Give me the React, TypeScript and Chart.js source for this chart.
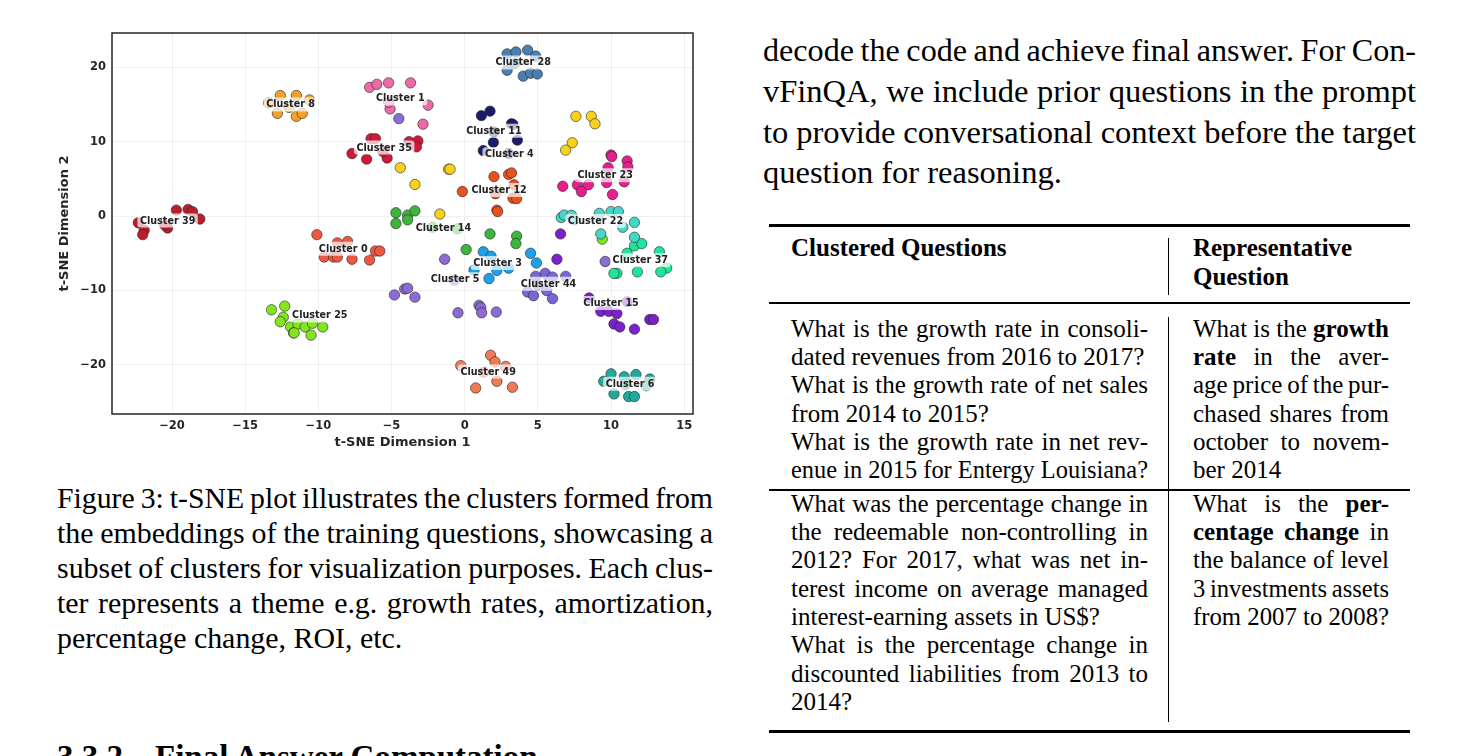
import React, { useEffect, useLayoutEffect, useRef } from 'react';
import { Chart, registerables } from 'chart.js';

Chart.register(...registerables);

type P = [number, number];

// ---------- chart data (t-SNE coordinates) ----------
const xTicks = [-20, -15, -10, -5, 0, 5, 10, 15];
const yTicks = [-20, -10, 0, 10, 20];

const cluster8: P[] = [[-12.6, 16.2], [-11.5, 16.2], [-10.6, 15.6], [-12.8, 13.8], [-11.5, 13.4], [-11.1, 13.8], [-13.4, 15.2], [-12.0, 14.6]];
const cluster39: P[] = [[-19.7, 0.8], [-18.9, 0.9], [-18.6, 0.6], [-18.1, -0.4], [-22.3, -0.9], [-21.9, -1.9], [-22.0, -2.5], [-20.3, -1.6], [-20.5, -1.2]];
const cluster1: P[] = [[-6.5, 17.3], [-6.0, 17.7], [-5.2, 17.9], [-3.7, 17.9], [-2.5, 14.9], [-2.85, 12.35], [-5.1, 14.4], [-5.2, 15.3]];
const cluster35: P[] = [[-6.4, 10.4], [-6.1, 10.4], [-7.7, 8.4], [-6.7, 7.65], [-5.3, 7.8], [-3.8, 10.0], [-3.2, 10.1], [-3.3, 9.3], [-5.6, 8.7]];
const goldPoints: P[] = [[-4.4, 6.5], [-3.4, 4.25], [-1.1, 6.3], [-1.0, 6.3], [-1.7, 0.27], [7.6, 13.4], [8.65, 13.4], [8.9, 12.4], [7.35, 9.85], [6.9, 8.86]];
const cluster14: P[] = [[-4.7, 0.45], [-3.9, 0.13], [-3.4, 0.7], [-4.7, -1.0], [-3.9, -0.5], [1.73, -2.4], [0.1, -4.5], [3.55, -2.7], [3.5, -3.7], [-2.2, -1.5], [-0.5, -1.7]];
const cluster11: P[] = [[1.14, 13.5], [1.73, 14.1], [3.2, 12.4], [3.3, 12.3], [1.96, 9.9], [1.27, 8.8], [3.6, 10.2], [2.0, 11.3], [3.0, 8.4]];
const cluster12: P[] = [[2.0, 5.3], [-0.16, 3.3], [2.2, 0.8], [2.25, 0.6], [3.0, 5.6], [3.2, 5.8], [3.37, 4.2], [3.3, 2.4], [3.55, 2.35], [2.1, 3.0]];
const cluster28: P[] = [[2.9, 21.8], [3.5, 22.05], [4.3, 22.3], [4.85, 21.5], [2.9, 19.6], [4.0, 18.8], [4.5, 19.2], [4.96, 19.1], [3.4, 20.5]];
const cluster23: P[] = [[10.0, 8.2], [10.05, 8.0], [11.1, 7.4], [11.15, 6.6], [9.8, 6.5], [10.9, 4.6], [9.7, 4.5], [8.45, 4.2], [7.7, 4.2], [7.97, 3.3], [6.7, 4.0], [10.1, 2.9]];
const cluster22: P[] = [[6.6, -0.2], [6.8, 0.13], [7.3, 0.1], [9.2, 0.36], [10.0, 0.6], [10.5, 0.6], [11.6, -0.85], [10.8, -1.5], [9.3, -2.4], [11.6, -2.85], [7.5, -0.5]];
const cluster37: P[] = [[11.6, -4.0], [12.1, -3.7], [13.3, -4.8], [13.8, -7.0], [13.4, -7.5], [11.8, -7.5], [10.4, -7.7], [10.2, -7.7], [11.1, -5.0]];
const cluster3: P[] = [[4.5, -5.0], [4.9, -6.3], [2.2, -7.3], [1.27, -4.8], [1.8, -5.4], [1.66, -8.4], [0.64, -7.25], [3.0, -7.0]];
const purplePoints: P[] = [[-1.37, -5.8], [-4.8, -10.6], [-4.1, -9.8], [-3.9, -9.7], [-3.4, -10.9], [-0.46, -13.0], [0.98, -12.0], [1.1, -12.3], [1.16, -13.0], [2.16, -12.9], [-0.7, -8.6], [-4.5, 13.1], [9.6, -6.1]];
const cluster44: P[] = [[4.85, -8.1], [5.5, -7.7], [6.0, -8.2], [6.9, -8.1], [4.3, -10.2], [4.7, -10.7], [6.0, -11.1], [5.6, -10.0], [5.0, -9.3]];
const cluster15: P[] = [[9.3, -12.8], [9.85, -12.8], [10.4, -13.1], [10.2, -14.5], [10.6, -14.9], [11.6, -15.2], [12.65, -13.9], [12.9, -13.9], [8.5, -11.0], [11.1, -11.5], [6.3, -5.8], [6.55, -2.4]];
const cluster6: P[] = [[10.0, -21.2], [10.9, -21.6], [11.7, -21.3], [12.65, -21.9], [9.5, -22.2], [10.2, -23.9], [11.2, -24.25], [11.6, -24.25], [12.4, -22.8], [11.0, -22.6]];
const cluster49: P[] = [[1.77, -18.7], [2.07, -19.6], [-0.27, -20.1], [0.75, -23.1], [2.8, -20.2], [2.2, -22.2], [3.26, -23.0], [1.3, -21.0]];
const cluster0: P[] = [[-10.1, -2.5], [-8.7, -3.6], [-8.0, -3.4], [-6.1, -4.7], [-5.8, -4.7], [-9.6, -5.5], [-8.96, -5.5], [-8.7, -5.5], [-7.7, -5.8], [-6.5, -5.9]];
const cluster25: P[] = [[-13.2, -12.6], [-12.3, -12.1], [-12.4, -13.6], [-12.6, -14.2], [-11.9, -14.9], [-11.7, -15.7], [-11.4, -14.5], [-10.9, -14.9], [-10.5, -16.0], [-10.4, -14.4], [-9.7, -14.9], [-11.65, -15.7], [9.4, -3.1]];

const seriesList: P[][] = [cluster8, cluster39, cluster1, cluster35, goldPoints, cluster14, cluster11, cluster12, cluster28, cluster23, cluster22, cluster37, cluster3, purplePoints, cluster44, cluster15, cluster6, cluster49, cluster0, cluster25];
const seriesColors = ['#f4a12b', '#b81f2a', '#ec6aa8', '#d2193a', '#f8d21a', '#3db53d', '#1b1b6b', '#e8521c', '#4a7fb2', '#e4208c', '#45d6c8', '#1de69a', '#1ea1ec', '#8c6cd4', '#7866d8', '#7a20cc', '#22a89c', '#ee7b55', '#ee5843', '#80e61e'];

const clusterNames = ['Cluster 28', 'Cluster 1', 'Cluster 8', 'Cluster 11', 'Cluster 35', 'Cluster 4', 'Cluster 23', 'Cluster 12', 'Cluster 39', 'Cluster 22', 'Cluster 14', 'Cluster 0', 'Cluster 37', 'Cluster 3', 'Cluster 5', 'Cluster 44', 'Cluster 15', 'Cluster 25', 'Cluster 49', 'Cluster 6'];
const labelX = [4.0, -4.4, -11.9, 2.0, -5.5, 3.05, 9.6, 2.35, -20.3, 8.94, -1.45, -8.3, 12.0, 2.25, -0.65, 5.73, 10.0, -9.9, 1.6, 11.3];
const labelY = [20.65, 15.8, 15.0, 11.45, 9.2, 8.3, 5.5, 3.5, -0.6, -0.67, -1.6, -4.4, -5.95, -6.3, -8.5, -9.1, -11.7, -13.35, -20.9, -22.55];

// ---------- layout helpers ----------
const SERIF = '"Liberation Serif", "Times New Roman", Times, serif';

function Line(props: { x: number; base: number; size: number; width: number; justify?: boolean; bold?: boolean; children: React.ReactNode }) {
  const ref = useRef<HTMLDivElement>(null);
  useLayoutEffect(() => {
    const fit = () => {
      const el = ref.current;
      if (!el) return;
      el.style.wordSpacing = '0px';
      el.style.transform = 'none';
      const span = el.firstChild as HTMLSpanElement;
      const natural = span.getBoundingClientRect().width;
      const spaces = (span.textContent || '').split(' ').length - 1;
      if (props.justify && spaces > 0) {
        let ws = (props.width - natural) / spaces;
        if (ws < -1.5) ws = -1.5;
        el.style.wordSpacing = ws + 'px';
        const now = span.getBoundingClientRect().width;
        if (now > props.width + 0.5) el.style.transform = 'scaleX(' + props.width / now + ')';
      } else if (natural > props.width + 0.5) {
        el.style.transform = 'scaleX(' + props.width / natural + ')';
      }
    };
    fit();
    if ((document as any).fonts && (document as any).fonts.ready) (document as any).fonts.ready.then(fit);
  }, []);
  return (
    <div
      ref={ref}
      style={{
        position: 'absolute',
        left: props.x,
        top: props.base - 0.8375 * props.size,
        fontFamily: SERIF,
        fontSize: props.size,
        lineHeight: props.size + 'px',
        fontWeight: props.bold ? 'bold' : 'normal',
        whiteSpace: 'nowrap',
        color: '#000',
        transformOrigin: 'left center',
      }}
    >
      <span>{props.children}</span>
    </div>
  );
}

function Rule(props: { x: number; y: number; w: number; h: number }) {
  return <div style={{ position: 'absolute', left: props.x, top: props.y, width: props.w, height: props.h, background: '#000' }} />;
}

function TsneChart() {
  const ref = useRef<HTMLCanvasElement>(null);
  useEffect(() => {
    if (!ref.current) return;
    const tickFont = { family: 'DejaVu Sans', weight: 'bold' as const, size: 11.5 };
    const titleFont = { family: 'DejaVu Sans', weight: 'bold' as const, size: 13 };
    const fmt = (v: any) => (Number(v) < 0 ? '\u2212' + Math.abs(Number(v)) : String(v));
    const framePlugin = {
      id: 'frameAndLabels',
      afterDatasetsDraw(chart: any) {
        const { ctx, chartArea, scales } = chart;
        ctx.save();
        ctx.font = 'bold 9.6px "DejaVu Sans"';
        ctx.textAlign = 'center';
        ctx.textBaseline = 'middle';
        clusterNames.forEach((name, i) => {
          const px = scales.x.getPixelForValue(labelX[i]);
          const py = scales.y.getPixelForValue(labelY[i]);
          const w = ctx.measureText(name).width;
          ctx.fillStyle = 'rgba(255,255,255,0.7)';
          ctx.beginPath();
          ctx.roundRect(px - w / 2 - 2.5, py - 7, w + 5, 14, 3);
          ctx.fill();
          ctx.fillStyle = '#222';
          ctx.fillText(name, px, py + 0.5);
        });
        ctx.strokeStyle = '#262626';
        ctx.lineWidth = 1.5;
        ctx.strokeRect(chartArea.left, chartArea.top, chartArea.right - chartArea.left, chartArea.bottom - chartArea.top);
        ctx.restore();
      },
    };
    const chart = new Chart(ref.current, {
      type: 'scatter',
      data: {
        datasets: seriesList.map((pts, i) => ({
          data: pts.map((p) => ({ x: p[0], y: p[1] })),
          backgroundColor: seriesColors[i],
          borderColor: 'rgba(35,35,35,0.85)',
          borderWidth: 0.7,
          pointRadius: 5.2,
        })),
      },
      options: {
        responsive: false,
        animation: false,
        events: [],
        layout: { padding: { left: 0, right: 17, top: 13, bottom: 0 } },
        plugins: { legend: { display: false }, tooltip: { enabled: false } },
        scales: {
          x: {
            type: 'linear',
            min: -24.1,
            max: 15.6,
            afterBuildTicks: (s: any) => { s.ticks = xTicks.map((v) => ({ value: v })); },
            afterFit: (s: any) => { s.height = 46; },
            grid: { color: 'rgba(0,0,0,0.06)', drawTicks: false },
            border: { display: false },
            ticks: { font: tickFont, color: '#262626', padding: 5, maxRotation: 0, callback: fmt },
            title: { display: true, text: 't-SNE Dimension 1', font: titleFont, color: '#262626', padding: { top: 0, bottom: 10 } },
          },
          y: {
            type: 'linear',
            min: -26.6,
            max: 24.6,
            afterBuildTicks: (s: any) => { s.ticks = yTicks.map((v) => ({ value: v })); },
            afterFit: (s: any) => { s.width = 62; },
            grid: { color: 'rgba(0,0,0,0.06)', drawTicks: false },
            border: { display: false },
            ticks: { font: tickFont, color: '#262626', padding: 6, callback: fmt },
            title: { display: true, text: 't-SNE Dimension 2', font: titleFont, color: '#262626', padding: { top: 7, bottom: 0 } },
          },
        },
      },
      plugins: [framePlugin],
    });
    return () => chart.destroy();
  }, []);
  return <canvas ref={ref} width={660} height={440} style={{ position: 'absolute', left: 50, top: 20, width: 660, height: 440 }} />;
}

export default function App() {
  const bodyBase = [61.5, 102.2, 142.9, 183.6];
  const capBase = [508.5, 543.5, 578.5, 613.5, 648.5];
  const rowBase = (i: number) => 336.7 + 28.3 * i;
  const row2Base = (i: number) => 511.7 + 28.3 * i;
  const LX = 791, LW = 357, RX = 1193, RW = 196, TF = 25;
  return (
    <div style={{ position: 'absolute', left: 0, top: 0, width: 1473, height: 756, overflow: 'hidden', background: '#fff' }}>
      <TsneChart />

      {/* caption */}
      <Line x={57} base={capBase[0]} size={29.9} width={656} justify>Figure 3: t-SNE plot illustrates the clusters formed from</Line>
      <Line x={57} base={capBase[1]} size={29.9} width={656} justify>the embeddings of the training questions, showcasing a</Line>
      <Line x={57} base={capBase[2]} size={29.9} width={656} justify>subset of clusters for visualization purposes. Each clus-</Line>
      <Line x={57} base={capBase[3]} size={29.9} width={656} justify>ter represents a theme e.g. growth rates, amortization,</Line>
      <Line x={57} base={capBase[4]} size={29.9} width={656}>percentage change, ROI, etc.</Line>

      {/* section heading (cut at page bottom) */}
      <Line x={57} base={769} size={33} width={80} bold>3.3.2</Line>
      <Line x={155} base={769} size={33} width={400} bold>Final Answer Computation</Line>

      {/* right column body */}
      <Line x={763} base={bodyBase[0]} size={32.5} width={653} justify>decode the code and achieve final answer. For Con-</Line>
      <Line x={763} base={bodyBase[1]} size={32.5} width={653} justify>vFinQA, we include prior questions in the prompt</Line>
      <Line x={763} base={bodyBase[2]} size={32.5} width={653} justify>to provide conversational context before the target</Line>
      <Line x={763} base={bodyBase[3]} size={32.5} width={653}>question for reasoning.</Line>

      {/* table rules */}
      <Rule x={769} y={224} w={641} h={3} />
      <Rule x={769} y={302} w={641} h={2} />
      <Rule x={769} y={489} w={641} h={1.6} />
      <Rule x={769} y={729.5} w={641} h={3} />
      <Rule x={1167.5} y={238} w={1.5} h={57} />
      <Rule x={1167.5} y={317} w={1.5} h={173} />
      <Rule x={1167.5} y={490} w={1.5} h={232} />

      {/* table header */}
      <Line x={LX} base={256} size={TF} width={LW} bold>Clustered Questions</Line>
      <Line x={RX} base={256} size={TF} width={RW} bold>Representative</Line>
      <Line x={RX} base={285} size={TF} width={RW} bold>Question</Line>

      {/* row 1 */}
      <Line x={LX} base={rowBase(0)} size={TF} width={LW} justify>What is the growth rate in consoli-</Line>
      <Line x={LX} base={rowBase(1)} size={TF} width={LW}>dated revenues from 2016 to 2017?</Line>
      <Line x={LX} base={rowBase(2)} size={TF} width={LW} justify>What is the growth rate of net sales</Line>
      <Line x={LX} base={rowBase(3)} size={TF} width={LW}>from 2014 to 2015?</Line>
      <Line x={LX} base={rowBase(4)} size={TF} width={LW} justify>What is the growth rate in net rev-</Line>
      <Line x={LX} base={rowBase(5)} size={TF} width={LW}>enue in 2015 for Entergy Louisiana?</Line>

      <Line x={RX} base={rowBase(0)} size={TF} width={RW} justify>What is the <b>growth</b></Line>
      <Line x={RX} base={rowBase(1)} size={TF} width={RW} justify><b>rate</b> in the aver-</Line>
      <Line x={RX} base={rowBase(2)} size={TF} width={RW} justify>age price of the pur-</Line>
      <Line x={RX} base={rowBase(3)} size={TF} width={RW} justify>chased shares from</Line>
      <Line x={RX} base={rowBase(4)} size={TF} width={RW} justify>october to novem-</Line>
      <Line x={RX} base={rowBase(5)} size={TF} width={RW}>ber 2014</Line>

      {/* row 2 */}
      <Line x={LX} base={row2Base(0)} size={TF} width={LW} justify>What was the percentage change in</Line>
      <Line x={LX} base={row2Base(1)} size={TF} width={LW} justify>the redeemable non-controlling in</Line>
      <Line x={LX} base={row2Base(2)} size={TF} width={LW} justify>2012? For 2017, what was net in-</Line>
      <Line x={LX} base={row2Base(3)} size={TF} width={LW} justify>terest income on average managed</Line>
      <Line x={LX} base={row2Base(4)} size={TF} width={LW}>interest-earning assets in US$?</Line>
      <Line x={LX} base={row2Base(5)} size={TF} width={LW} justify>What is the percentage change in</Line>
      <Line x={LX} base={row2Base(6)} size={TF} width={LW} justify>discounted liabilities from 2013 to</Line>
      <Line x={LX} base={row2Base(7)} size={TF} width={LW}>2014?</Line>

      <Line x={RX} base={row2Base(0)} size={TF} width={RW} justify>What is the <b>per-</b></Line>
      <Line x={RX} base={row2Base(1)} size={TF} width={RW} justify><b>centage change</b> in</Line>
      <Line x={RX} base={row2Base(2)} size={TF} width={RW} justify>the balance of level</Line>
      <Line x={RX} base={row2Base(3)} size={TF} width={RW} justify>3 investments assets</Line>
      <Line x={RX} base={row2Base(4)} size={TF} width={RW}>from 2007 to 2008?</Line>
    </div>
  );
}
